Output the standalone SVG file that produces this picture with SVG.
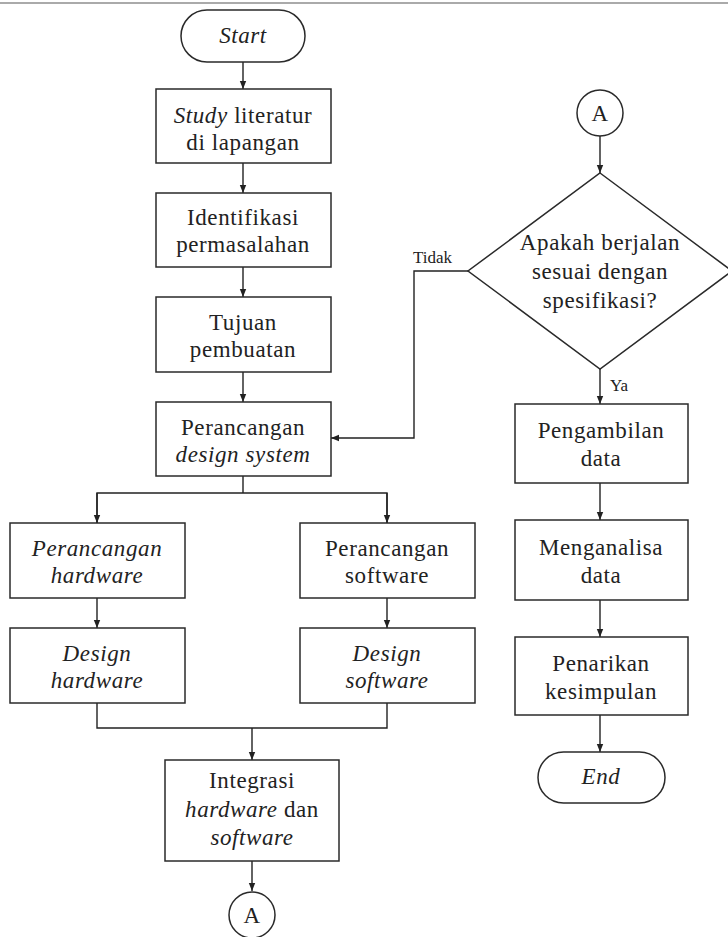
<svg xmlns="http://www.w3.org/2000/svg" width="728" height="937" viewBox="0 0 728 937">
<style>
.box{fill:#fff;stroke:#2a2a2a;stroke-width:1.5}
.t{font-family:"Liberation Serif","Times New Roman",serif;font-size:23px;letter-spacing:0.6px;fill:#222;text-anchor:middle}
.s{font-family:"Liberation Serif","Times New Roman",serif;font-size:17px;fill:#222}
.i{font-style:italic}
.c{fill:none;stroke:#222;stroke-width:1.4}
</style>
<defs>
<marker id="ah" viewBox="0 0 10 10" refX="10" refY="5" markerWidth="8" markerHeight="8" markerUnits="userSpaceOnUse" orient="auto">
<path d="M0,1 L10,5 L0,9 z" fill="#222"/>
</marker>
</defs>
<rect x="0" y="0" width="728" height="937" fill="#fff"/>
<line x1="0" y1="3" x2="728" y2="3" stroke="#aaa" stroke-width="2"/>

<g id="connectors">
<line class="c" x1="243" y1="62" x2="243" y2="89" marker-end="url(#ah)"/>
<line class="c" x1="243" y1="163" x2="243" y2="193" marker-end="url(#ah)"/>
<line class="c" x1="243" y1="267" x2="243" y2="297" marker-end="url(#ah)"/>
<line class="c" x1="243" y1="372" x2="243" y2="402" marker-end="url(#ah)"/>
<polyline class="c" points="243,476 243,493"/>
<polyline class="c" points="97,523 97,493 387,493 387,523"/>
<line class="c" x1="97" y1="493" x2="97" y2="523" marker-end="url(#ah)"/>
<line class="c" x1="387" y1="493" x2="387" y2="523" marker-end="url(#ah)"/>
<line class="c" x1="97" y1="598" x2="97" y2="628" marker-end="url(#ah)"/>
<line class="c" x1="387" y1="598" x2="387" y2="628" marker-end="url(#ah)"/>
<polyline class="c" points="97,703 97,728 387,728 387,703"/>
<line class="c" x1="252" y1="728" x2="252" y2="760" marker-end="url(#ah)"/>
<line class="c" x1="252" y1="861" x2="252" y2="891" marker-end="url(#ah)"/>
<line class="c" x1="600" y1="136" x2="600" y2="173" marker-end="url(#ah)"/>
<polyline class="c" points="468,271 414,271 414,438 331,438" marker-end="url(#ah)"/>
<text class="s" x="413" y="263">Tidak</text>
<line class="c" x1="600" y1="369" x2="600" y2="404" marker-end="url(#ah)"/>
<text class="s" x="610" y="391">Ya</text>
<line class="c" x1="600" y1="483" x2="600" y2="520" marker-end="url(#ah)"/>
<line class="c" x1="600" y1="600" x2="600" y2="637" marker-end="url(#ah)"/>
<line class="c" x1="600" y1="715" x2="600" y2="752" marker-end="url(#ah)"/>
</g>

<g id="start">
<rect class="box" x="181" y="10" width="124" height="52" rx="26"/>
<text class="t i" x="243" y="43">Start</text>
</g>
<g id="study">
<rect class="box" x="156" y="89" width="175" height="74"/>
<text class="t" x="243" y="123"><tspan class="i">Study</tspan> literatur</text>
<text class="t" x="243" y="150">di lapangan</text>
</g>
<g id="identifikasi">
<rect class="box" x="156" y="193" width="175" height="74"/>
<text class="t" x="243" y="225">Identifikasi</text>
<text class="t" x="243" y="252">permasalahan</text>
</g>
<g id="tujuan">
<rect class="box" x="156" y="297" width="175" height="75"/>
<text class="t" x="243" y="330">Tujuan</text>
<text class="t" x="243" y="357">pembuatan</text>
</g>
<g id="perancangan-design">
<rect class="box" x="156" y="402" width="175" height="74"/>
<text class="t" x="243" y="435">Perancangan</text>
<text class="t i" x="243" y="462">design system</text>
</g>
<g id="perancangan-hardware">
<rect class="box" x="10" y="523" width="175" height="75"/>
<text class="t i" x="97" y="556">Perancangan</text>
<text class="t i" x="97" y="583">hardware</text>
</g>
<g id="perancangan-software">
<rect class="box" x="300" y="523" width="175" height="75"/>
<text class="t" x="387" y="556">Perancangan</text>
<text class="t" x="387" y="583">software</text>
</g>
<g id="design-hardware">
<rect class="box" x="10" y="628" width="175" height="75"/>
<text class="t i" x="97" y="661">Design</text>
<text class="t i" x="97" y="688">hardware</text>
</g>
<g id="design-software">
<rect class="box" x="300" y="628" width="175" height="75"/>
<text class="t i" x="387" y="661">Design</text>
<text class="t i" x="387" y="688">software</text>
</g>
<g id="integrasi">
<rect class="box" x="165" y="760" width="174" height="101"/>
<text class="t" x="252" y="788">Integrasi</text>
<text class="t" x="252" y="817"><tspan class="i">hardware</tspan> dan</text>
<text class="t i" x="252" y="845">software</text>
</g>
<g id="connector-a-bottom">
<circle class="box" cx="252" cy="915" r="23"/>
<text class="t" x="252" y="923">A</text>
</g>
<g id="connector-a-top">
<circle class="box" cx="600" cy="113" r="23"/>
<text class="t" x="600" y="121">A</text>
</g>
<g id="decision">
<polygon class="box" points="600,173 732,271 600,369 468,271"/>
<text class="t" x="600" y="250">Apakah berjalan</text>
<text class="t" x="600" y="279">sesuai dengan</text>
<text class="t" x="600" y="308">spesifikasi?</text>
</g>
<g id="pengambilan">
<rect class="box" x="515" y="404" width="173" height="79"/>
<text class="t" x="601" y="438">Pengambilan</text>
<text class="t" x="601" y="466">data</text>
</g>
<g id="menganalisa">
<rect class="box" x="515" y="520" width="173" height="80"/>
<text class="t" x="601" y="555">Menganalisa</text>
<text class="t" x="601" y="583">data</text>
</g>
<g id="penarikan">
<rect class="box" x="515" y="637" width="173" height="78"/>
<text class="t" x="601" y="671">Penarikan</text>
<text class="t" x="601" y="699">kesimpulan</text>
</g>
<g id="end">
<rect class="box" x="538" y="752" width="127" height="51" rx="25.5"/>
<text class="t i" x="601" y="784">End</text>
</g>
</svg>
